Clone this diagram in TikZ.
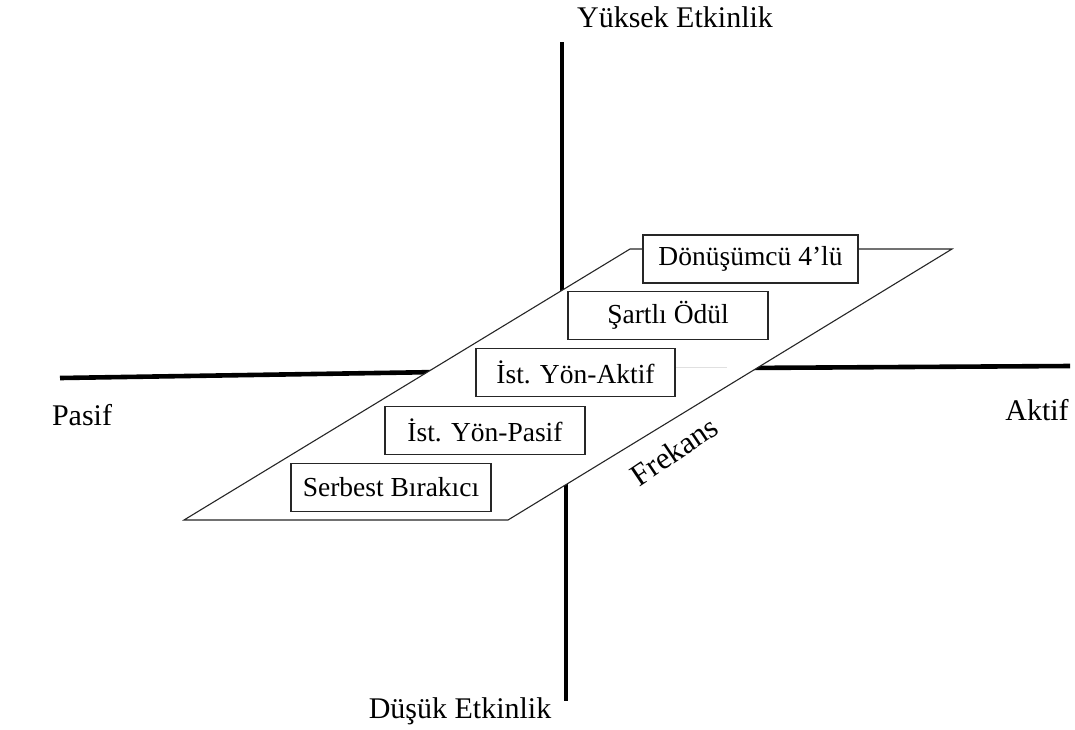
\documentclass[tikz,border=0pt]{standalone}
\usepackage{fontspec}
\setmainfont{Liberation Serif}
\begin{document}
\begin{tikzpicture}[x=1pt,y=-1pt,
  axis/.style={line width=4.6pt},
  plane/.style={draw=black!85,line width=1.1pt,fill=white},
  catbox/.style={draw=black!85,line width=1.2pt,fill=white,inner sep=0pt,
    minimum height=48pt,font=\fontsize{27.5}{32}\selectfont},
  axislabel/.style={anchor=base,inner sep=0pt,font=\fontsize{30}{36}\selectfont}]
\useasboundingbox (0,0) rectangle (1075,729);

% axis end points
\coordinate (vt) at (562,42);
\coordinate (vm) at (562,300);
\coordinate (vb1) at (566,478);
\coordinate (vb) at (566,701);
\coordinate (hl) at (60,378);
\coordinate (hl1) at (440,372);
\coordinate (hr1) at (740,368);
\coordinate (hr) at (1070,366);

\draw[axis] (vt) -- (vm);
\draw[axis] (vb1) -- (vb);
\draw[axis] (hl) -- (hl1);
\draw[axis] (hr1) -- (hr);

% frequency plane
\coordinate (pbl) at (184,520);
\coordinate (pbr) at (508,520);
\coordinate (ptr) at (952,249);
\coordinate (ptl) at (630,249);
\draw[plane] (pbl) -- (pbr) -- (ptr) -- (ptl) -- cycle;

% faint trace of the axis on the plane
\coordinate (g1) at (675,367);
\coordinate (g2) at (727,367);
\draw[black!12,line width=1pt] (g1) -- (g2);

% categories
\node[catbox,minimum width=215pt] (d4) at (750.5,259) {Dönüşümcü 4’lü};
\node[catbox,minimum width=200pt] (so) at (668,315.5) {Şartlı Ödül};
\node[catbox,minimum width=199pt] (ia) at (575.5,372.5) {İst. Yön-Aktif};
\node[catbox,minimum width=200pt] (ip) at (485,430.5) {İst. Yön-Pasif};
\node[catbox,minimum width=200pt] (sb) at (391,487.5) {Serbest Bırakıcı};

% axis labels
\node[axislabel] (yuk) at (675,27) {Yüksek Etkinlik};
\node[axislabel] (dus) at (460,718) {Düşük Etkinlik};
\node[axislabel] (pas) at (82,425) {Pasif};
\node[axislabel] (akt) at (1037,420) {Aktif};
\node[inner sep=0pt,rotate=34,font=\fontsize{31}{36}\selectfont] (frk) at (674,451) {Frekans};
\end{tikzpicture}
\end{document}
